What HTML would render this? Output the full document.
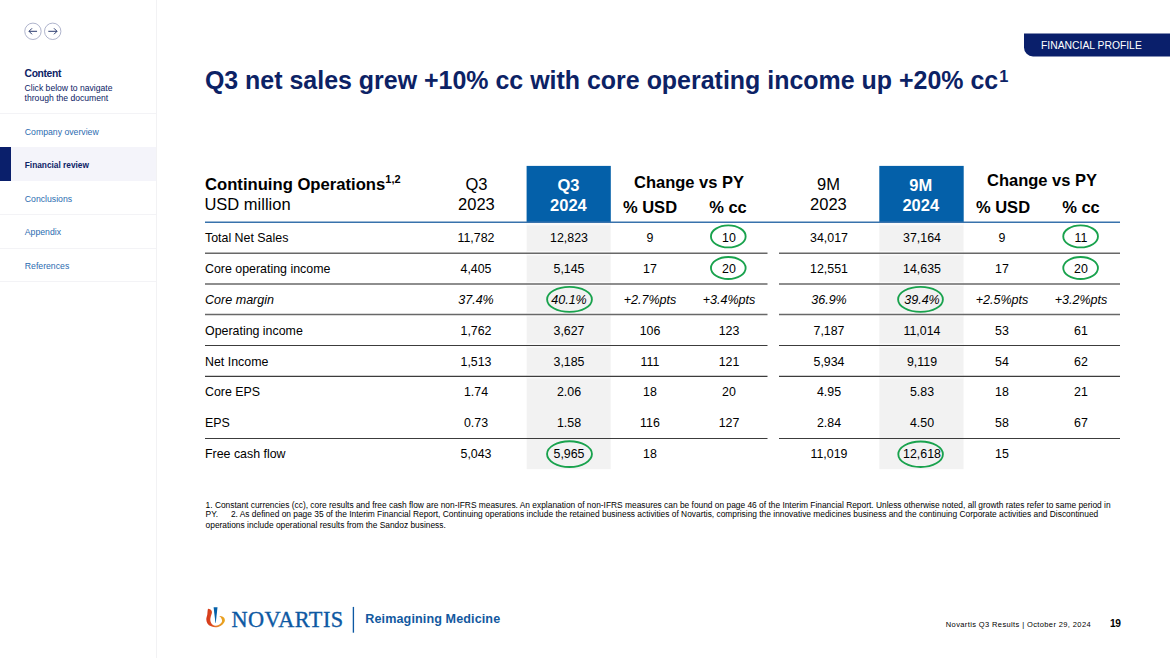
<!DOCTYPE html>
<html>
<head>
<meta charset="utf-8">
<title>Q3 net sales grew +10% cc with core operating income up +20% cc</title>
<style>
html,body{margin:0;padding:0;background:#fff;}
body{width:1170px;height:658px;position:relative;overflow:hidden;font-family:"Liberation Sans",sans-serif;color:#000;}
.abs{position:absolute;white-space:nowrap;}
#side{position:absolute;left:0;top:0;width:156px;height:658px;border-right:1px solid #f2f2f4;background:#fff;}
.sdiv{position:absolute;left:0;width:156px;height:1px;background:#f3f3f6;}
.sitem{position:absolute;left:24.8px;font-size:8.7px;color:#2b6cb0;white-space:nowrap;line-height:10px;}
#active{position:absolute;left:0;top:147px;width:156px;height:34px;background:#f4f4fa;}
#activebar{position:absolute;left:0;top:147px;width:11px;height:34px;background:#0a1f6b;}
#title{position:absolute;left:204.9px;top:64.6px;font-size:24.96px;font-weight:bold;color:#0c2265;white-space:nowrap;line-height:30px;}
#title sup{font-size:16.4px;line-height:0;vertical-align:baseline;position:relative;top:-6.9px;margin-left:1px}
.bluehd{position:absolute;color:#fff;font-weight:bold;font-size:16.5px;text-align:center;line-height:20px;}
.hd{position:absolute;font-size:16.5px;text-align:center;line-height:20px;white-space:nowrap;}
.hdb{position:absolute;font-size:16.5px;font-weight:bold;text-align:center;white-space:nowrap;line-height:20px;}
.hdb sup{font-size:11px;line-height:0;vertical-align:baseline;position:relative;top:-6.8px;}
.c{position:absolute;width:100px;margin-left:-50px;text-align:center;font-size:12.4px;line-height:16px;white-space:nowrap;}
.l{position:absolute;left:205px;font-size:12.4px;line-height:16px;white-space:nowrap;}
.i{font-style:italic;font-size:12.55px;}
.fn{position:absolute;left:205.6px;font-size:8.39px;line-height:10px;color:#000;white-space:nowrap;}
.c,.l{transform:translateY(0.55px) rotate(0.0001deg);}
.hd,.bluehd{transform:translateX(-0.55px) rotate(0.0001deg);}
.hdb{transform:rotate(0.0001deg);}

</style>
</head>
<body>
<div id="side">
<div class="sdiv" style="top:113px"></div>
<div class="sdiv" style="top:214px"></div>
<div class="sdiv" style="top:248px"></div>
<div class="sdiv" style="top:281px"></div>
<div id="active"></div><div id="activebar"></div>
<svg class="abs" style="left:23px;top:21px" width="40" height="20" viewBox="0 0 40 20">
<circle cx="9.95" cy="10.3" r="8.2" fill="#fff" stroke="#949bbb" stroke-width="0.75"/>
<circle cx="29.7" cy="10.3" r="8.2" fill="#fff" stroke="#949bbb" stroke-width="0.75"/>
<path d="M14.05 10.3H6.1M9.0 7.3L6.0 10.3L9.0 13.3" fill="none" stroke="#14265f" stroke-width="0.9"/>
<path d="M25.3 10.3H33.9M31 7.3L34 10.3L31 13.3" fill="none" stroke="#14265f" stroke-width="0.9"/>
</svg>
<div class="abs" style="left:24.6px;top:66.8px;font-size:10.3px;letter-spacing:-0.36px;font-weight:bold;color:#0c2265;line-height:14px">Content</div>
<div class="abs" style="left:24.6px;top:82.6px;font-size:8.6px;color:#0c2265;line-height:10.3px">Click below to navigate<br>through the document</div>
<div class="sitem" style="top:126.6px">Company overview</div>
<div class="sitem" style="top:159.6px;font-weight:bold;color:#0c2265;font-size:8.3px">Financial review</div>
<div class="sitem" style="top:193.5px">Conclusions</div>
<div class="sitem" style="top:227px">Appendix</div>
<div class="sitem" style="top:260.6px">References</div>
</div>

<svg class="abs" style="left:1020px;top:30px" width="150" height="30" viewBox="0 0 150 30"><path d="M4 3.5H150V26.4H13A9 9 0 0 1 4 17.4Z" fill="#0a1f6b"/></svg>
<div class="abs" style="left:1041px;top:39px;font-size:10.35px;line-height:14px;color:#fff">FINANCIAL PROFILE</div>
<div id="title">Q3 net sales grew +10% cc with core operating income up +20% cc<sup>1</sup></div>
<svg class="abs" style="left:0;top:0" width="1170" height="658" viewBox="0 0 1170 658"><rect x="526.7" y="222" width="84" height="247.2" fill="#f2f2f2"/><rect x="526.7" y="221.1" width="84" height="4.2" fill="#fafafa"/><rect x="526.7" y="251.1" width="84" height="4.2" fill="#fafafa"/><rect x="526.7" y="281.9" width="84" height="4.2" fill="#fafafa"/><rect x="526.7" y="312.29999999999995" width="84" height="4.2" fill="#fafafa"/><rect x="526.7" y="343.4" width="84" height="4.2" fill="#fafafa"/><rect x="526.7" y="374.29999999999995" width="84" height="4.2" fill="#fafafa"/><rect x="879.3" y="222" width="84.2" height="247.2" fill="#f2f2f2"/><rect x="879.3" y="221.1" width="84.2" height="4.2" fill="#fafafa"/><rect x="879.3" y="251.1" width="84.2" height="4.2" fill="#fafafa"/><rect x="879.3" y="281.9" width="84.2" height="4.2" fill="#fafafa"/><rect x="879.3" y="312.29999999999995" width="84.2" height="4.2" fill="#fafafa"/><rect x="879.3" y="343.4" width="84.2" height="4.2" fill="#fafafa"/><rect x="879.3" y="374.29999999999995" width="84.2" height="4.2" fill="#fafafa"/><rect x="526.6" y="165.9" width="84.2" height="56.4" fill="#0460a9"/><rect x="879.3" y="165.9" width="84.4" height="56.4" fill="#0460a9"/><line x1="205" x2="1120" y1="222.3" y2="222.3" stroke="#3872ac" stroke-width="1.5"/><line x1="205" x2="767.5" y1="253.2" y2="253.2" stroke="#686868" stroke-width="1.5"/><line x1="779" x2="1120" y1="253.2" y2="253.2" stroke="#686868" stroke-width="1.5"/><line x1="205" x2="767.5" y1="284" y2="284" stroke="#686868" stroke-width="1.5"/><line x1="779" x2="1120" y1="284" y2="284" stroke="#686868" stroke-width="1.5"/><line x1="205" x2="767.5" y1="314.4" y2="314.4" stroke="#686868" stroke-width="1.5"/><line x1="779" x2="1120" y1="314.4" y2="314.4" stroke="#686868" stroke-width="1.5"/><line x1="205" x2="767.5" y1="345.5" y2="345.5" stroke="#3c3c3c" stroke-width="1.15"/><line x1="779" x2="1120" y1="345.5" y2="345.5" stroke="#3c3c3c" stroke-width="1.15"/><line x1="205" x2="767.5" y1="376.4" y2="376.4" stroke="#3c3c3c" stroke-width="1.15"/><line x1="779" x2="1120" y1="376.4" y2="376.4" stroke="#3c3c3c" stroke-width="1.15"/><line x1="205" x2="767.5" y1="438.5" y2="438.5" stroke="#3c3c3c" stroke-width="1.1"/><line x1="779" x2="1120" y1="438.5" y2="438.5" stroke="#3c3c3c" stroke-width="1.1"/><ellipse cx="728.3" cy="236.4" rx="17.35" ry="11.0" fill="none" stroke="#19a24d" stroke-width="1.85"/><ellipse cx="728.3" cy="268" rx="17.35" ry="11.0" fill="none" stroke="#19a24d" stroke-width="1.85"/><ellipse cx="569.5" cy="299.4" rx="22.4" ry="12.5" fill="none" stroke="#19a24d" stroke-width="1.85"/><ellipse cx="569.5" cy="454.1" rx="22.45" ry="12.85" fill="none" stroke="#19a24d" stroke-width="1.85"/><ellipse cx="1080.6" cy="236.4" rx="17.35" ry="11.0" fill="none" stroke="#19a24d" stroke-width="1.85"/><ellipse cx="1080.6" cy="268" rx="17.35" ry="11.0" fill="none" stroke="#19a24d" stroke-width="1.85"/><ellipse cx="920.5" cy="299.4" rx="22.4" ry="12.5" fill="none" stroke="#19a24d" stroke-width="1.85"/><ellipse cx="920.6" cy="454.2" rx="22.3" ry="12.75" fill="none" stroke="#19a24d" stroke-width="1.85"/></svg>
<div class="bluehd" style="left:526.6px;top:165.8px;width:84px;height:56px"><div style="padding-top:8.6px">Q3<br>2024</div></div>
<div class="bluehd" style="left:879.3px;top:165.8px;width:84.6px;height:56px"><div style="padding-top:8.6px">9M<br>2024</div></div>
<div class="hdb" style="left:204.8px;top:174.8px;text-align:left;font-size:16.65px">Continuing Operations<sup>1,2</sup></div>
<div class="hd" style="left:205.45px;top:194px;text-align:left">USD million</div>
<div class="hd" style="left:426.8px;top:174.4px;width:100px">Q3<br>2023</div>
<div class="hd" style="left:779.3px;top:174.4px;width:100px">9M<br>2023</div>
<div class="hdb" style="left:588.6px;top:172.4px;width:200px">Change vs PY</div>
<div class="hdb" style="left:600.2px;top:196.8px;width:100px">% USD</div>
<div class="hdb" style="left:678.4px;top:196.8px;width:100px">% cc</div>
<div class="hdb" style="left:941.7px;top:170.2px;width:200px">Change vs PY</div>
<div class="hdb" style="left:952.7px;top:196.9px;width:100px">% USD</div>
<div class="hdb" style="left:1031px;top:196.9px;width:100px">% cc</div>
<div class="l" style="top:229.0px">Total Net Sales</div>
<div class="c" style="left:476.4px;top:229.0px">11,782</div>
<div class="c" style="left:568.6px;top:229.0px">12,823</div>
<div class="c" style="left:650.1px;top:229.0px">9</div>
<div class="c" style="left:728.6px;top:229.0px">10</div>
<div class="c" style="left:829.3px;top:229.0px">34,017</div>
<div class="c" style="left:921.6px;top:229.0px">37,164</div>
<div class="c" style="left:1002.3px;top:229.0px">9</div>
<div class="c" style="left:1080.9px;top:229.0px">11</div>
<div class="l" style="top:260.0px">Core operating income</div>
<div class="c" style="left:476.4px;top:260.0px">4,405</div>
<div class="c" style="left:568.6px;top:260.0px">5,145</div>
<div class="c" style="left:650.1px;top:260.0px">17</div>
<div class="c" style="left:728.6px;top:260.0px">20</div>
<div class="c" style="left:829.3px;top:260.0px">12,551</div>
<div class="c" style="left:921.6px;top:260.0px">14,635</div>
<div class="c" style="left:1002.3px;top:260.0px">17</div>
<div class="c" style="left:1080.9px;top:260.0px">20</div>
<div class="l i" style="top:290.9px">Core margin</div>
<div class="c i" style="left:476.4px;top:290.9px">37.4%</div>
<div class="c i" style="left:568.6px;top:290.9px">40.1%</div>
<div class="c i" style="left:650.1px;top:290.9px">+2.7%pts</div>
<div class="c i" style="left:728.6px;top:290.9px">+3.4%pts</div>
<div class="c i" style="left:829.3px;top:290.9px">36.9%</div>
<div class="c i" style="left:921.6px;top:290.9px">39.4%</div>
<div class="c i" style="left:1002.3px;top:290.9px">+2.5%pts</div>
<div class="c i" style="left:1080.9px;top:290.9px">+3.2%pts</div>
<div class="l" style="top:321.7px">Operating income</div>
<div class="c" style="left:476.4px;top:321.7px">1,762</div>
<div class="c" style="left:568.6px;top:321.7px">3,627</div>
<div class="c" style="left:650.1px;top:321.7px">106</div>
<div class="c" style="left:728.6px;top:321.7px">123</div>
<div class="c" style="left:829.3px;top:321.7px">7,187</div>
<div class="c" style="left:921.6px;top:321.7px">11,014</div>
<div class="c" style="left:1002.3px;top:321.7px">53</div>
<div class="c" style="left:1080.9px;top:321.7px">61</div>
<div class="l" style="top:352.6px">Net Income</div>
<div class="c" style="left:476.4px;top:352.6px">1,513</div>
<div class="c" style="left:568.6px;top:352.6px">3,185</div>
<div class="c" style="left:650.1px;top:352.6px">111</div>
<div class="c" style="left:728.6px;top:352.6px">121</div>
<div class="c" style="left:829.3px;top:352.6px">5,934</div>
<div class="c" style="left:921.6px;top:352.6px">9,119</div>
<div class="c" style="left:1002.3px;top:352.6px">54</div>
<div class="c" style="left:1080.9px;top:352.6px">62</div>
<div class="l" style="top:383.4px">Core EPS</div>
<div class="c" style="left:476.4px;top:383.4px">1.74</div>
<div class="c" style="left:568.6px;top:383.4px">2.06</div>
<div class="c" style="left:650.1px;top:383.4px">18</div>
<div class="c" style="left:728.6px;top:383.4px">20</div>
<div class="c" style="left:829.3px;top:383.4px">4.95</div>
<div class="c" style="left:921.6px;top:383.4px">5.83</div>
<div class="c" style="left:1002.3px;top:383.4px">18</div>
<div class="c" style="left:1080.9px;top:383.4px">21</div>
<div class="l" style="top:414.2px">EPS</div>
<div class="c" style="left:476.4px;top:414.2px">0.73</div>
<div class="c" style="left:568.6px;top:414.2px">1.58</div>
<div class="c" style="left:650.1px;top:414.2px">116</div>
<div class="c" style="left:728.6px;top:414.2px">127</div>
<div class="c" style="left:829.3px;top:414.2px">2.84</div>
<div class="c" style="left:921.6px;top:414.2px">4.50</div>
<div class="c" style="left:1002.3px;top:414.2px">58</div>
<div class="c" style="left:1080.9px;top:414.2px">67</div>
<div class="l" style="top:445.2px">Free cash flow</div>
<div class="c" style="left:476.4px;top:445.2px">5,043</div>
<div class="c" style="left:568.6px;top:445.2px">5,965</div>
<div class="c" style="left:650.1px;top:445.2px">18</div>
<div class="c" style="left:829.3px;top:445.2px">11,019</div>
<div class="c" style="left:921.6px;top:445.2px">12,618</div>
<div class="c" style="left:1002.3px;top:445.2px">15</div>
<div class="fn" style="top:500.1px">1. Constant currencies (cc), core results and free cash flow are non-IFRS measures. An explanation of non-IFRS measures can be found on page 46 of the Interim Financial Report. Unless otherwise noted, all growth rates refer to same period in</div>
<div class="fn" style="top:509.1px">PY.<span style="display:inline-block;width:12.9px"></span>2. As defined on page 35 of the Interim Financial Report, Continuing operations include the retained business activities of Novartis, comprising the innovative medicines business and the continuing Corporate activities and Discontinued</div>
<div class="fn" style="top:519.6px">operations include operational results from the Sandoz business.</div>
<svg class="abs" style="left:200px;top:600px" width="32" height="32" viewBox="0 0 32 32">
<defs><linearGradient id="fl" x1="6" y1="0" x2="25" y2="0" gradientUnits="userSpaceOnUse"><stop offset="0" stop-color="#d4361a"/><stop offset="0.3" stop-color="#dc4a1f"/><stop offset="0.55" stop-color="#e6792d"/><stop offset="0.8" stop-color="#e89a21"/><stop offset="1" stop-color="#eaa91e"/></linearGradient></defs>
<path fill="url(#fl)" d="M8.0 8.8C7.4 10.8 7.6 12.6 7.3 14.6C7.0 16.4 6.2 17.8 6.3 19.5C6.4 21.0 6.7 22.3 7.3 23.3C8.2 24.8 9.6 25.8 11.2 26.3C12.6 26.9 14.1 27.3 15.6 27.3C17.3 27.3 19.0 26.8 20.4 26.0C21.8 25.2 23.0 24.2 23.8 22.9C24.4 22.1 24.9 21.3 24.9 20.4C24.9 19.4 24.7 18.5 24.1 17.8C23.4 17.0 22.4 16.5 21.4 16.3C20.7 16.1 19.9 16.0 19.2 16.0C20.2 16.6 21.0 17.5 21.4 18.5C21.8 19.3 22.2 20.1 22.1 20.9C22.0 21.8 21.5 22.6 20.9 23.3C20.3 24.0 19.4 24.6 18.5 25.0C17.6 25.5 16.6 25.8 15.6 25.8C14.5 25.8 13.4 25.5 12.6 24.8C11.7 24.1 11.0 23.0 10.7 21.9C10.4 21.0 10.2 20.0 10.3 19.0C10.4 17.5 11.0 16.1 11.4 14.6C11.7 13.7 12.1 12.7 11.9 11.7C11.8 10.8 11.2 10.0 10.5 9.5C9.8 9.0 8.9 8.8 8.0 8.8Z"/>
<path fill="#0460a9" d="M13.6 7.2H17.5L15.75 22.9H15.45Z"/>
</svg>
<div class="abs" style="left:231.5px;top:604.6px;font-family:'Liberation Serif',serif;font-size:22.3px;color:#0d59a3;line-height:30px;letter-spacing:0.45px;-webkit-text-stroke:0.35px #0d59a3">NOVARTIS</div>
<svg class="abs" style="left:350px;top:604px" width="8" height="32" viewBox="0 0 8 32"><line x1="3.4" x2="3.4" y1="2.9" y2="28.7" stroke="#0d59a3" stroke-width="1.35"/></svg>
<div class="abs" style="left:365.3px;top:610.4px;font-size:12.6px;letter-spacing:0.1px;font-weight:bold;color:#12599f;line-height:18px">Reimagining Medicine</div>
<div class="abs" style="left:945.8px;top:620.1px;font-size:7.5px;letter-spacing:0.38px;color:#000;line-height:10px">Novartis Q3 Results | October 29, 2024</div>
<div class="abs" style="left:1109.6px;top:617.9px;font-size:10.2px;letter-spacing:-0.5px;transform:rotate(0.0001deg);font-weight:bold;color:#000;line-height:12px">19</div>

</body>
</html>
